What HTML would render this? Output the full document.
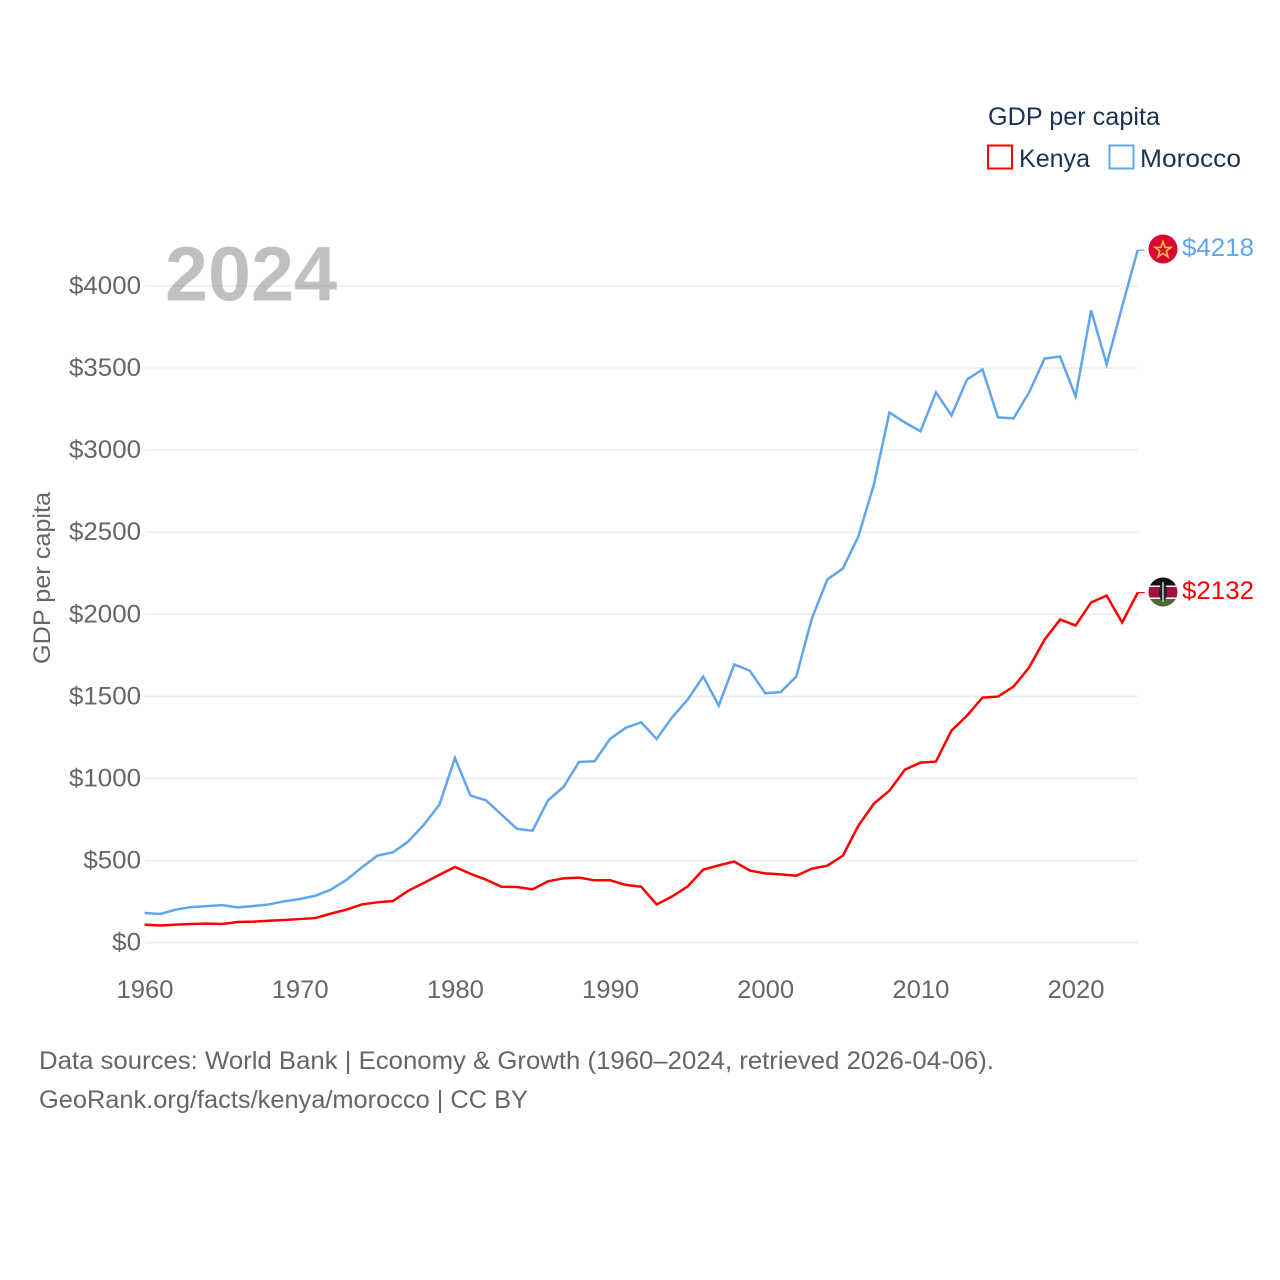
<!DOCTYPE html>
<html lang="en">
<head>
<meta charset="utf-8">
<title>GDP per capita: Kenya and Morocco</title>
<style>
html,body{margin:0;padding:0;background:#fff;}
#chart{display:block;width:1280px;height:1280px;font-family:"Liberation Sans",sans-serif;}
</style>
</head>
<body>
<svg id="chart" xmlns="http://www.w3.org/2000/svg" width="1280" height="1280" viewBox="0 0 1280 1280">
  <defs>
    <clipPath id="flag-clip-ma"><circle cx="1163" cy="249" r="14.5"/></clipPath>
    <clipPath id="flag-clip-ke"><circle cx="1163" cy="592" r="14.5"/></clipPath>
  </defs>
  <rect width="1280" height="1280" fill="#fff"/>
  <g id="grid"></g>
  <text x="165" y="300.500" font-size="77" font-weight="700" fill="#888" fill-opacity="0.53" textLength="172" lengthAdjust="spacingAndGlyphs">2024</text>
  <g id="y-ticks"></g>
  <g id="x-ticks"></g>
  <text transform="translate(50,578) rotate(-90)" text-anchor="middle" font-size="24" fill="#666" textLength="172" lengthAdjust="spacingAndGlyphs">GDP per capita</text>
  <g id="series"></g>

  <g clip-path="url(#flag-clip-ma)">
    <rect x="1148" y="234" width="30" height="30" fill="#d9072f"/>
    <polygon points="1163,241.5 1165.1,247.4 1170.9,247.4 1166.3,251 1168,257 1163,253.4 1158,257 1159.7,251 1155.1,247.4 1160.9,247.4" fill="none" stroke="#f5c542" stroke-width="1.6"/>
  </g>
  <g clip-path="url(#flag-clip-ke)">
    <rect x="1148" y="577" width="30" height="8.5" fill="#111"/>
    <rect x="1148" y="585.5" width="30" height="1.6" fill="#fff"/>
    <rect x="1148" y="587" width="30" height="10.5" fill="#a3123a"/>
    <rect x="1148" y="597.5" width="30" height="1.6" fill="#fff"/>
    <rect x="1148" y="599" width="30" height="8.6" fill="#4a6b34"/>
    <ellipse cx="1163" cy="592" rx="4" ry="9" fill="#222"/>
    <rect x="1162.3" y="582" width="1.4" height="20" fill="#ddd"/>
  </g>
  <text x="1182" y="256" font-size="25" fill="#60a5ee" textLength="72" lengthAdjust="spacingAndGlyphs">$4218</text>
  <text x="1182" y="599" font-size="25" fill="#ff0000" textLength="72" lengthAdjust="spacingAndGlyphs">$2132</text>

  <g>
    <text x="988" y="125" font-size="25" fill="#1b3252" textLength="172" lengthAdjust="spacingAndGlyphs">GDP per capita</text>
    <g>
      <rect x="988" y="145.500" width="24" height="23" fill="#fff" stroke="#ff0000" stroke-width="2"/>
      <text x="1019" y="167" font-size="25" fill="#1b3252" textLength="71" lengthAdjust="spacingAndGlyphs">Kenya</text>
    </g>
    <g>
      <rect x="1109.500" y="145.500" width="24" height="23" fill="#fff" stroke="#60a5ee" stroke-width="2"/>
      <text x="1140" y="167" font-size="25" fill="#1b3252" textLength="101" lengthAdjust="spacingAndGlyphs">Morocco</text>
    </g>
  </g>

  <g>
    <text x="39" y="1069" font-size="25" fill="#666" textLength="955" lengthAdjust="spacingAndGlyphs">Data sources: World Bank | Economy &amp; Growth (1960–2024, retrieved 2026-04-06).</text>
    <text x="39" y="1108" font-size="25" fill="#666" textLength="489" lengthAdjust="spacingAndGlyphs">GeoRank.org/facts/kenya/morocco | CC BY</text>
  </g>
</svg>
<script>
const years = [1960,1961,1962,1963,1964,1965,1966,1967,1968,1969,1970,1971,1972,1973,1974,1975,1976,1977,1978,1979,1980,1981,1982,1983,1984,1985,1986,1987,1988,1989,1990,1991,1992,1993,1994,1995,1996,1997,1998,1999,2000,2001,2002,2003,2004,2005,2006,2007,2008,2009,2010,2011,2012,2013,2014,2015,2016,2017,2018,2019,2020,2021,2022,2023,2024];
const moroccoValues = [181,175,201,217,223,229,215,223,233,252,266,286,323,382,459,530,550,617,719,841,1125,896,867,780,693,682,867,949,1101,1105,1241,1308,1342,1241,1373,1481,1621,1444,1694,1657,1519,1527,1621,1974,2212,2279,2474,2791,3229,3168,3114,3351,3211,3430,3491,3199,3193,3351,3558,3570,3327,3851,3522,3875,4218];
const kenyaValues = [110,105,110,114,116,114,126,128,134,138,144,150,177,201,233,246,254,317,364,414,461,420,384,341,339,325,374,392,396,380,380,352,341,233,282,343,445,471,494,439,422,416,408,451,469,530,713,847,926,1054,1097,1103,1292,1383,1493,1499,1560,1676,1846,1968,1932,2072,2114,1950,2132];
const yTickValues = [0,500,1000,1500,2000,2500,3000,3500,4000];
const xTickValues = [1960,1970,1980,1990,2000,2010,2020];

const SVG_NS = 'http://www.w3.org/2000/svg';
function xScale(year) { return 144.6 + (year - 1960) * 15.517; }
function yScale(value) { return 942.7 - value * 0.1642; }

const gridGroup = document.getElementById('grid');
const yTickGroup = document.getElementById('y-ticks');
const xTickGroup = document.getElementById('x-ticks');
const seriesGroup = document.getElementById('series');

yTickValues.forEach(function (v) {
  const line = document.createElementNS(SVG_NS, 'line');
  line.setAttribute('x1', 145);
  line.setAttribute('x2', 1137.5);
  line.setAttribute('y1', yScale(v));
  line.setAttribute('y2', yScale(v));
  line.setAttribute('stroke', '#ebebeb');
  line.setAttribute('stroke-width', 1.5);
  
  
  gridGroup.appendChild(line);

  const label = document.createElementNS(SVG_NS, 'text');
  label.setAttribute('x', 141);
  label.setAttribute('y', yScale(v) + 8);
  label.setAttribute('text-anchor', 'end');
  label.setAttribute('font-size', 25);
  label.setAttribute('fill', '#666');
  label.setAttribute('textLength', 14.4 * (String(v).length + 1));
  label.setAttribute('lengthAdjust', 'spacingAndGlyphs');
  
  
  label.textContent = '$' + v;
  yTickGroup.appendChild(label);
});

xTickValues.forEach(function (yr) {
  const label = document.createElementNS(SVG_NS, 'text');
  label.setAttribute('x', xScale(yr) + 0.4);
  label.setAttribute('y', 998);
  label.setAttribute('text-anchor', 'middle');
  label.setAttribute('font-size', 25);
  label.setAttribute('fill', '#666');
  label.setAttribute('textLength', 57);
  label.setAttribute('lengthAdjust', 'spacingAndGlyphs');
  
  
  label.textContent = yr;
  xTickGroup.appendChild(label);
});

function drawSeries(values, color, lineName, leaderName) {
  const d = values.map(function (v, i) {
    return (i ? 'L' : 'M') + xScale(years[i]).toFixed(2) + ' ' + yScale(v).toFixed(2);
  }).join(' ');
  const path = document.createElementNS(SVG_NS, 'path');
  path.setAttribute('d', d);
  path.setAttribute('fill', 'none');
  path.setAttribute('stroke', color);
  path.setAttribute('stroke-width', 2.5);
  path.setAttribute('stroke-linejoin', 'miter');
  
  
  seriesGroup.appendChild(path);

  const last = values[values.length - 1];
  const leader = document.createElementNS(SVG_NS, 'line');
  leader.setAttribute('x1', xScale(years[years.length - 1]));
  leader.setAttribute('x2', xScale(years[years.length - 1]) + 7);
  leader.setAttribute('y1', yScale(last));
  leader.setAttribute('y2', yScale(last));
  leader.setAttribute('stroke', color);
  leader.setAttribute('stroke-width', 1.2);
  
  
  seriesGroup.appendChild(leader);
}
drawSeries(moroccoValues, '#60a5ee', 'morocco-line', 'morocco-leader-line');
drawSeries(kenyaValues, '#ff0000', 'kenya-line', 'kenya-leader-line');
</script>
</body>
</html>
